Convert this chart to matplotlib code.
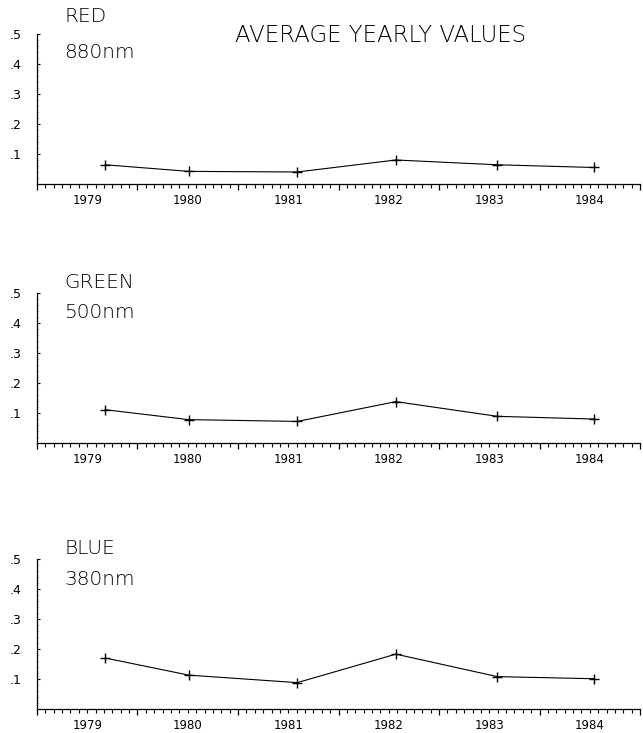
import numpy as np
import matplotlib
matplotlib.use("Agg")
import matplotlib.pyplot as plt
from matplotlib.ticker import MultipleLocator, FuncFormatter

# sample dates (fractional year) and yearly averages per band
dates = [1979.68, 1980.51, 1981.59, 1982.57, 1983.58, 1984.54]
red_880 = [0.064, 0.042, 0.040, 0.080, 0.064, 0.055]
green_500 = [0.111, 0.078, 0.072, 0.138, 0.089, 0.080]
blue_380 = [0.170, 0.113, 0.088, 0.183, 0.108, 0.101]

bands = ["RED", "GREEN", "BLUE"]
wavelengths = ["880nm", "500nm", "380nm"]
series = [red_880, green_500, blue_380]

y_ticks = [0.1, 0.2, 0.3, 0.4, 0.5]
years = [1979, 1980, 1981, 1982, 1983, 1984]

plt.rcParams['font.family'] = ['DejaVu Sans']

fig = plt.figure(figsize=(6.43, 7.33), dpi=100)

bottoms = [0.749, 0.3956, 0.0327]
name_y = [(0.977, 0.929), (0.614, 0.573), (0.252, 0.209)]


def year_label(x, pos):
  frac = x - np.floor(x)
  if abs(frac - 0.5) < 1e-6 and int(np.floor(x)) in years:
    return str(int(np.floor(x)))
  return ''


for i in range(3):
  ax = fig.add_axes([0.0575, bottoms[i], 0.938, 0.2046])
  ax.plot(dates, series[i], color='black', lw=0.8, marker='+', ms=7, mew=1.0)
  ax.set_xlim(1979, 1985)
  ax.set_ylim(0, 0.5)

  ax.spines['top'].set_visible(False)
  ax.spines['right'].set_visible(False)
  ax.spines['left'].set_linewidth(0.9)
  ax.spines['bottom'].set_linewidth(0.9)

  ax.xaxis.set_major_locator(MultipleLocator(1))
  ax.xaxis.set_minor_locator(MultipleLocator(1 / 12))
  ax.xaxis.set_major_formatter(FuncFormatter(lambda x, p: ''))
  ax.xaxis.set_minor_formatter(FuncFormatter(year_label))
  ax.tick_params(axis='x', which='major', direction='out', length=4.5, width=0.9)
  ax.tick_params(axis='x', which='minor', direction='out', length=2.8, width=0.8,
                 pad=4.5, labelsize=8.5)

  ax.set_yticks(y_ticks)
  ax.yaxis.set_major_formatter(FuncFormatter(lambda v, p: ('%.1f' % v)[1:]))
  ax.yaxis.set_minor_locator(MultipleLocator(0.02))
  ax.tick_params(axis='y', which='major', direction='in', length=2, width=0.8,
                 pad=11, labelsize=9)
  ax.tick_params(axis='y', which='minor', direction='in', length=1, width=0.5)

  fig.text(0.1, name_y[i][0], bands[i], fontsize=14.5, fontweight='light',
           va='center', ha='left')
  fig.text(0.1, name_y[i][1], wavelengths[i], fontsize=14.5, fontweight='light',
           va='center', ha='left')

fig.text(0.591, 0.952, 'AVERAGE YEARLY VALUES', fontsize=16.5, fontweight='light',
         ha='center', va='center')

fig.savefig('out.png', dpi=100)
